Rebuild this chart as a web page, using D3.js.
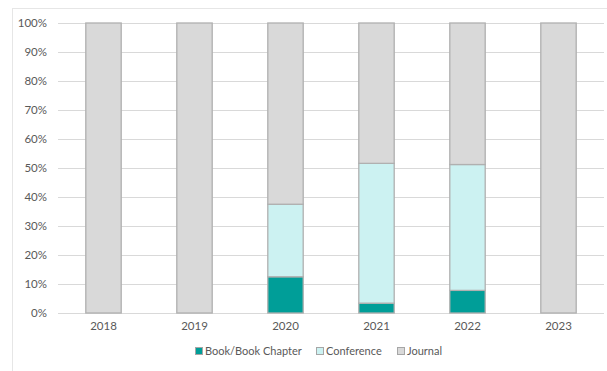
<!DOCTYPE html>
<html>
<head>
  <style>
    html, body { margin: 0; padding: 0; background: #fff; }
    text { font-family: Lato, "Open Sans", sans-serif; fill: #595959; font-size: 11.5px; }
    .legend text { font-size: 11px; }
  </style>
</head>
<body>
  <svg id="chart" width="607" height="371"></svg>

  <script src="https://d3js.org/d3.v7.min.js"></script>
  <script>
    // data (percent shares per year)
    const years = ["2018", "2019", "2020", "2021", "2022", "2023"];
    const seriesNames = ["Book/Book Chapter", "Conference", "Journal"];
    const bookChapter = [0, 0, 12.5, 3.4, 7.8, 0];
    const conference = [0, 0, 25, 48.2, 43.4, 0];
    const journal = [100, 100, 62.5, 48.4, 48.8, 100];
    const yTicks = [0, 10, 20, 30, 40, 50, 60, 70, 80, 90, 100];

    const colors = ["#009e98", "#ccf2f2", "#d9d9d9"];

    const margin = { top: 23, right: 3, bottom: 58, left: 58 };
    const width = 607 - margin.left - margin.right;
    const height = 371 - margin.top - margin.bottom;

    const root = d3.select("#chart");

    // outer chart frame
    root.append("rect")
        .attr("x", 12.5).attr("y", 8.5)
        .attr("width", 620).attr("height", 400)
        .attr("fill", "none")
        .attr("stroke", "#e6e6e6");

    const svg = root.append("g")
        .attr("transform", `translate(${margin.left},${margin.top})`);

    const x = d3.scaleBand().domain(years).range([0, width]).paddingInner(0.6).paddingOuter(0.3);
    const y = d3.scaleLinear().domain([0, 100]).range([height, 0]);

    // gridlines
    svg.selectAll(".grid")
       .data(yTicks)
       .enter().append("line")
       .attr("x1", 0).attr("x2", width)
       .attr("y1", d => Math.round(y(d)) + 0.5)
       .attr("y2", d => Math.round(y(d)) + 0.5)
       .attr("stroke", "#d9d9d9");

    // y labels
    svg.selectAll(".ylab")
       .data(yTicks)
       .enter().append("text")
       .attr("x", -11)
       .attr("y", d => y(d) + 4)
       .attr("text-anchor", "end")
       .text(d => d + "%");

    // stacked bars
    const rows = years.map((yr, i) => ({ year: yr, b: bookChapter[i], c: conference[i], j: journal[i] }));
    const stack = d3.stack().keys(["b", "c", "j"]);
    const layers = stack(rows);

    svg.selectAll(".layer")
       .data(layers)
       .enter().append("g")
       .attr("fill", (d, i) => colors[i])
       .selectAll("rect")
       .data(d => d.filter(p => p[1] - p[0] > 0))
       .enter().append("rect")
       .attr("x", d => x(d.data.year) + 0.5)
       .attr("y", d => y(d[1]))
       .attr("width", x.bandwidth() - 1)
       .attr("height", d => y(d[0]) - y(d[1]))
       .attr("stroke", "#b0b0b0")
       .attr("stroke-width", 1.3);

    // x labels
    svg.selectAll(".xlab")
       .data(years)
       .enter().append("text")
       .attr("x", d => x(d) + x.bandwidth() / 2)
       .attr("y", height + 17)
       .attr("text-anchor", "middle")
       .text(d => d);

    // legend
    const legendX = [195, 316, 397];
    const legend = root.append("g").attr("class", "legend").attr("transform", "translate(0,355)");
    seriesNames.forEach((name, i) => {
      legend.append("rect")
            .attr("x", legendX[i] + 0.5).attr("y", -7.5)
            .attr("width", 7).attr("height", 7)
            .attr("fill", colors[i])
            .attr("stroke", "#a6a6a6");
      legend.append("text")
            .attr("x", legendX[i] + 10)
            .attr("y", 0)
            .text(name);
    });
  </script>
</body>
</html>
